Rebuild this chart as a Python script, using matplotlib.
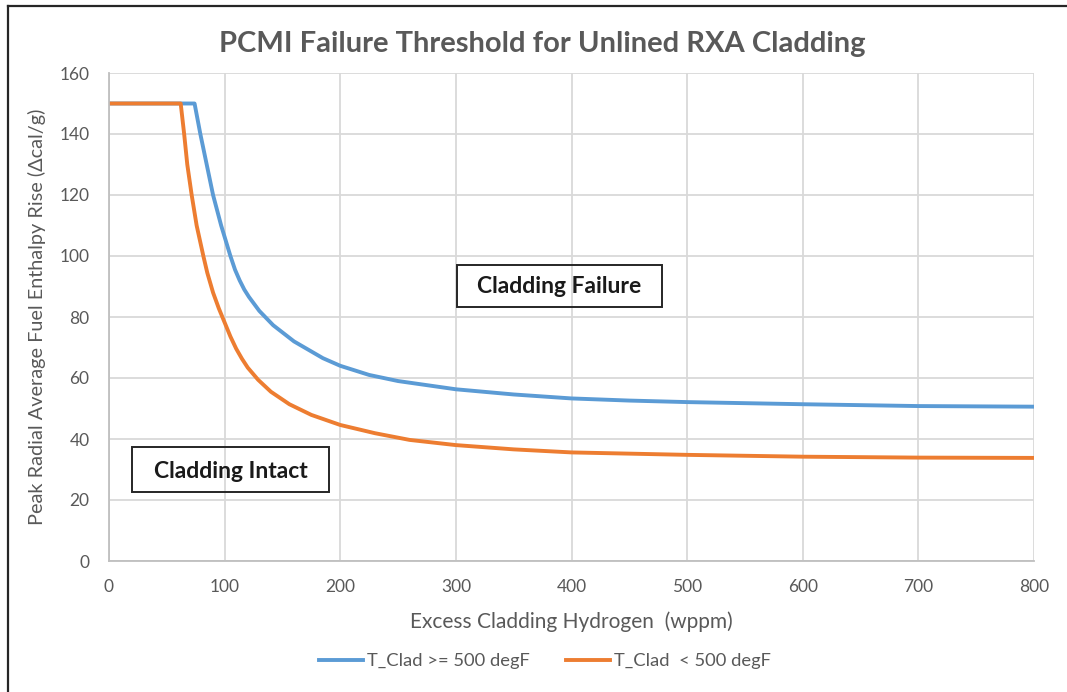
import matplotlib
matplotlib.use("Agg")
import matplotlib.pyplot as plt
from matplotlib.lines import Line2D
from matplotlib.patches import Rectangle

hot_h = [0, 74, 79, 84.5, 90, 97, 101, 105, 109, 113, 117, 121, 130, 142, 160, 185, 200,
         225, 250, 300, 350, 400, 450, 500, 600, 700, 800]
hot_dh = [150, 150, 140, 130, 120, 110, 105, 100, 95.5, 92, 89, 86.6, 82, 77.3, 72, 66.5, 64,
          61, 59, 56.3, 54.6, 53.3, 52.6, 52.1, 51.4, 50.8, 50.6]

cold_h = [0, 62, 65, 67.7, 71.5, 75.8, 81.6, 85, 90, 95, 100, 105, 110, 115, 120, 129, 140,
          156, 175, 200, 230, 260, 300, 350, 400, 500, 600, 700, 800]
cold_dh = [150, 150, 140, 130, 120, 110, 100, 94.5, 88, 82.8, 78.2, 73.6, 69.6, 66.3, 63.4,
           59.4, 55.5, 51.4, 47.9, 44.6, 41.9, 39.7, 38, 36.6, 35.6, 34.8, 34.2, 33.9, 33.8]

series_labels = ["T_Clad >= 500 degF", "T_Clad  < 500 degF"]
series_colors = ["#5B9BD5", "#ED7D31"]

x_ticks = list(range(0, 801, 100))
y_ticks = list(range(0, 161, 20))

plt.rcParams["font.family"] = ["Lato", "DejaVu Sans"]
gray = "#595959"

fig = plt.figure(figsize=(10.67, 6.92), dpi=100)
ax = fig.add_axes([109 / 1067, 1 - 561 / 692, 925 / 1067, 488 / 692])

ax.plot(hot_h, hot_dh, color=series_colors[0], lw=2.8, label=series_labels[0],
        solid_joinstyle="round")
ax.plot(cold_h, cold_dh, color=series_colors[1], lw=2.8, label=series_labels[1],
        solid_joinstyle="round")

ax.set_xlim(0, 800)
ax.set_ylim(0, 160)
ax.set_xticks(x_ticks)
ax.set_yticks(y_ticks)
ax.grid(True, color="#D9D9D9", lw=1.3)
ax.set_axisbelow(True)
for s in ["top", "right"]:
    ax.spines[s].set_visible(False)
for s in ["left", "bottom"]:
    ax.spines[s].set_color("#BFBFBF")
    ax.spines[s].set_linewidth(1.3)
ax.tick_params(length=0, labelsize=12.5, labelcolor=gray)
ax.tick_params(axis="y", pad=14)
ax.tick_params(axis="x", pad=13)

ax.set_xlabel("Excess Cladding Hydrogen  (wppm)", fontsize=15, color=gray, labelpad=12)
ax.set_ylabel("Peak Radial Average Fuel Enthalpy Rise (\u0394cal/g)", fontsize=14.3,
              color=gray, labelpad=10)

fig.text(542 / 1067, 1 - 44 / 692, "PCMI Failure Threshold for Unlined RXA Cladding",
         ha="center", va="center", fontsize=21, fontweight="bold", color=gray)

# region boxes
ax.add_patch(Rectangle((300.8, 83.4), 177.5, 13.6, fill=False, ec="#262626", lw=1.4, zorder=4))
ax.text(389.5, 90.0, "Cladding Failure", ha="center", va="center", fontsize=16.5,
        fontweight="bold", color="#1a1a1a", zorder=5)
ax.add_patch(Rectangle((20.3, 22.5), 170, 14.8, fill=False, ec="#262626", lw=1.4, zorder=4))
ax.text(105.3, 29.2, "Cladding Intact", ha="center", va="center", fontsize=16.5,
        fontweight="bold", color="#1a1a1a", zorder=5)

fig.legend(loc="center", bbox_to_anchor=(545 / 1067, 1 - 661 / 692), ncol=2,
           frameon=False, fontsize=13.2, labelcolor=gray, handlelength=2.4,
           handletextpad=0.2, columnspacing=2.0)

# outer frame (cropped at right and bottom)
fig.add_artist(Line2D([8 / 1067, 1], [1 - 6 / 692, 1 - 6 / 692], color="#262626", lw=1.6))
fig.add_artist(Line2D([8 / 1067, 8 / 1067], [0, 1 - 6 / 692], color="#262626", lw=1.6))

fig.savefig("out.png", dpi=100)
